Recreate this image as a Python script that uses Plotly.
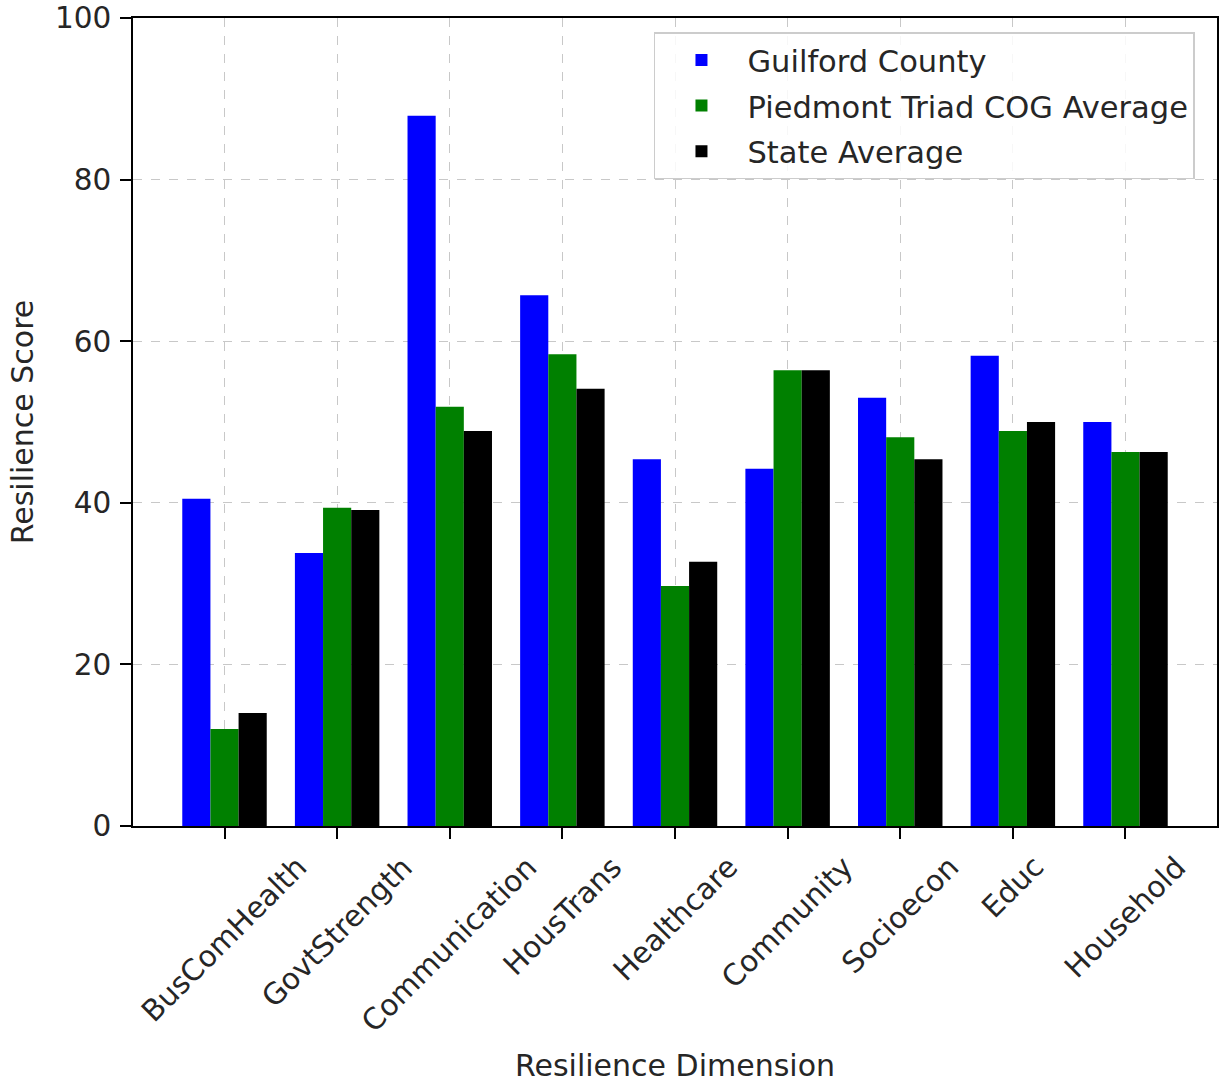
import plotly.graph_objects as go

categories = ["BusComHealth", "GovtStrength", "Communication", "HousTrans",
              "Healthcare", "Community", "Socioecon", "Educ", "Household"]
guilford = [40.5, 33.8, 87.9, 65.7, 45.4, 44.2, 53.0, 58.2, 50.0]
piedmont = [12.0, 39.4, 51.9, 58.4, 29.7, 56.4, 48.1, 48.9, 46.3]
state = [14.0, 39.1, 48.9, 54.1, 32.7, 56.4, 45.4, 50.0, 46.3]
series_names = ["Guilford County", "Piedmont Triad COG Average", "State Average"]
series_colors = ["#0000ff", "#008000", "#000000"]
y_ticks = [0, 20, 40, 60, 80, 100]

FONT = "DejaVu Sans"
TXT = "#262626"
TICK_SIZE = 29.5
TITLE_SIZE = 30
LEGEND_SIZE = 30.5

fig = go.Figure()
for name, vals, col in zip(series_names, [guilford, piedmont, state], series_colors):
    fig.add_trace(go.Bar(x=categories, y=vals, name=name, marker_color=col,
                         marker_line_width=0, legendgroup=name))

annotations = []
for c in categories:
    annotations.append(dict(x=c, y=0, xref="x", yref="y", text=c, showarrow=False,
                            textangle=-45, xanchor="center", yanchor="top",
                            yshift=-21, font=dict(family=FONT, size=TICK_SIZE, color=TXT)))
annotations.append(dict(x=0.5, y=-0.297, xref="paper", yref="paper",
                        text="Resilience Dimension", showarrow=False,
                        xanchor="center", yanchor="middle",
                        font=dict(family=FONT, size=TITLE_SIZE, color=TXT)))

fig.update_layout(
    width=1225, height=1082,
    margin=dict(l=133, r=8, t=18, b=256),
    paper_bgcolor="white", plot_bgcolor="white",
    barmode="group", bargap=0.25, bargroupgap=0,
    font=dict(family=FONT, size=TICK_SIZE, color=TXT),
    annotations=annotations,
    legend=dict(x=0.4806, y=0.9825, xanchor="left", yanchor="top",
                bgcolor="rgba(255,255,255,0.85)", bordercolor="#cccccc", borderwidth=1.5,
                font=dict(family=FONT, size=LEGEND_SIZE, color=TXT),
                itemwidth=82, tracegroupgap=3),
    showlegend=True,
)
fig.update_xaxes(
    type="category", range=[-0.8125, 8.8125], automargin=False,
    showticklabels=False, ticks="outside", ticklen=11, tickwidth=1.5, tickcolor="black",
    showline=True, linecolor="black", linewidth=1.8, mirror=True,
    showgrid=True, gridcolor="#c8c8c8", gridwidth=1, griddash="dash",
)
fig.update_yaxes(
    range=[0, 100], tickvals=y_ticks, ticktext=[str(v) for v in y_ticks], automargin=False,
    ticks="outside", ticklen=11, tickwidth=1.5, tickcolor="black", ticklabelstandoff=3,
    tickfont=dict(family=FONT, size=TICK_SIZE, color=TXT),
    showline=True, linecolor="black", linewidth=1.8, mirror=True,
    showgrid=True, gridcolor="#c8c8c8", gridwidth=1, griddash="dash",
    zeroline=False,
    title=dict(text="Resilience Score", font=dict(family=FONT, size=TITLE_SIZE, color=TXT), standoff=12),
)

fig.write_html("out.html", config={"displayModeBar": False},
               post_script="document.body.style.margin='0';document.body.style.padding='0';")
